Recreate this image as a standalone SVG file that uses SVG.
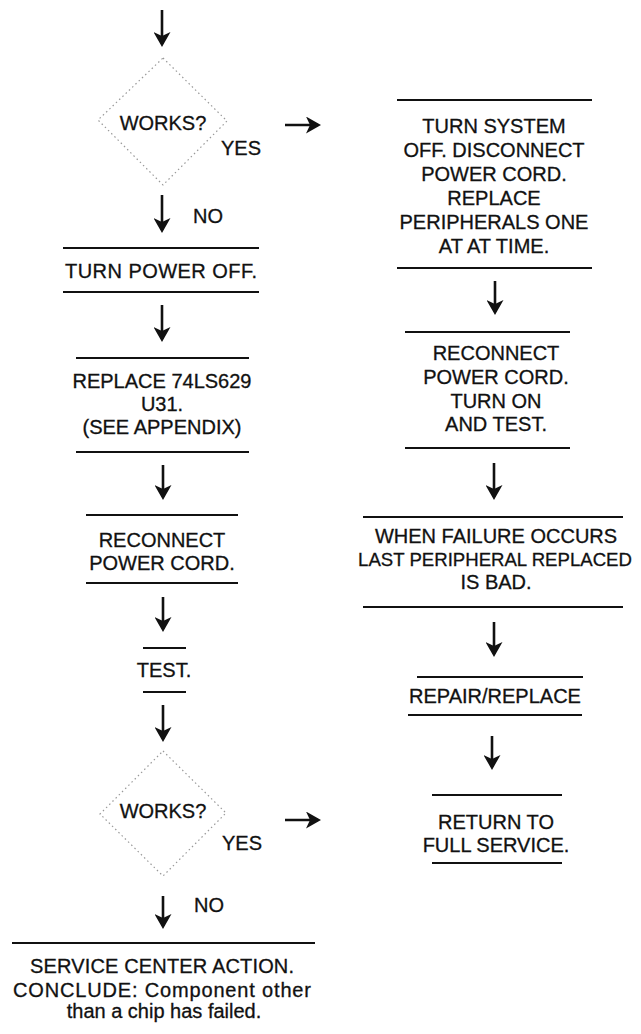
<svg xmlns="http://www.w3.org/2000/svg" width="641" height="1034" viewBox="0 0 641 1034">
<style>
text{font-family:"Liberation Sans",Arial,sans-serif;font-size:20px;fill:#111;stroke:#111;stroke-width:0.3;text-anchor:middle}
.bar{stroke:#111;stroke-width:2;fill:none}
.dia{stroke:#999;stroke-width:1.2;stroke-dasharray:1.5 3;fill:none}
.arr{stroke:#111;stroke-width:2.6;fill:none;marker-end:url(#ah)}
</style>
<defs>
<marker id="ah" viewBox="0 0 15 17" refX="12" refY="8.5" markerWidth="15" markerHeight="17" markerUnits="userSpaceOnUse" orient="auto">
<path d="M0,0 L15,8.5 L0,17 L4,8.5 Z" fill="#111"/>
</marker>
</defs>
<rect width="641" height="1034" fill="#fff"/>
<g id="connectors">
<line class="arr" x1="162" y1="10" x2="162" y2="44"/>
<line class="arr" x1="162" y1="195" x2="162" y2="230"/>
<line class="arr" x1="162" y1="305" x2="162" y2="339"/>
<line class="arr" x1="163" y1="465" x2="163" y2="497"/>
<line class="arr" x1="163" y1="597" x2="163" y2="629"/>
<line class="arr" x1="163" y1="705" x2="163" y2="739"/>
<line class="arr" x1="163" y1="896" x2="163" y2="926"/>
<line class="arr" x1="285" y1="125" x2="318" y2="125"/>
<line class="arr" x1="285" y1="820" x2="318" y2="820"/>
<line class="arr" x1="495" y1="281" x2="495" y2="312"/>
<line class="arr" x1="494" y1="463" x2="494" y2="497"/>
<line class="arr" x1="494" y1="622" x2="494" y2="654"/>
<line class="arr" x1="492" y1="736" x2="492" y2="767"/>
<text x="208" y="223">NO</text>
<text x="241" y="155">YES</text>
<text x="209" y="912">NO</text>
<text x="242" y="850">YES</text>
</g>
<g id="decision1">
<polygon class="dia" points="163,58 227,121 163,185 98,120"/>
<text x="163" y="130">WORKS?</text>
</g>
<g id="turn-power-off">
<line class="bar" x1="63" y1="248" x2="259" y2="248"/>
<text x="161" y="278" textLength="192">TURN POWER OFF.</text>
<line class="bar" x1="63" y1="292" x2="259" y2="292"/>
</g>
<g id="replace-chip">
<line class="bar" x1="76" y1="358" x2="249" y2="358"/>
<text x="162" y="388">REPLACE 74LS629</text>
<text x="162" y="411">U31.</text>
<text x="162" y="434">(SEE APPENDIX)</text>
<line class="bar" x1="76" y1="452" x2="249" y2="452"/>
</g>
<g id="reconnect-left">
<line class="bar" x1="86" y1="515" x2="238" y2="515"/>
<text x="162" y="547">RECONNECT</text>
<text x="162" y="570">POWER CORD.</text>
<line class="bar" x1="86" y1="583" x2="238" y2="583"/>
</g>
<g id="test">
<line class="bar" x1="143" y1="648" x2="186" y2="648"/>
<text x="164" y="677">TEST.</text>
<line class="bar" x1="143" y1="692" x2="186" y2="692"/>
</g>
<g id="decision2">
<polygon class="dia" points="163,751 226,813 163,876 100,814"/>
<text x="163" y="818">WORKS?</text>
</g>
<g id="service-center">
<line class="bar" x1="12" y1="943" x2="315" y2="943"/>
<text x="162" y="973" textLength="264">SERVICE CENTER ACTION.</text>
<text x="162" y="997" textLength="298">CONCLUDE: Component other</text>
<text x="164" y="1018">than a chip has failed.</text>
</g>
<g id="turn-system-off">
<line class="bar" x1="397" y1="100" x2="592" y2="100"/>
<text x="494" y="133">TURN SYSTEM</text>
<text x="494" y="157">OFF. DISCONNECT</text>
<text x="494" y="181">POWER CORD.</text>
<text x="494" y="205">REPLACE</text>
<text x="494" y="229">PERIPHERALS ONE</text>
<text x="494" y="253">AT AT TIME.</text>
<line class="bar" x1="397" y1="268" x2="592" y2="268"/>
</g>
<g id="reconnect-right">
<line class="bar" x1="405" y1="332" x2="570" y2="332"/>
<text x="496" y="360">RECONNECT</text>
<text x="496" y="384">POWER CORD.</text>
<text x="496" y="408">TURN ON</text>
<text x="496" y="431">AND TEST.</text>
<line class="bar" x1="405" y1="448" x2="570" y2="448"/>
</g>
<g id="failure-occurs">
<line class="bar" x1="363" y1="517" x2="623" y2="517"/>
<text x="496" y="543">WHEN FAILURE OCCURS</text>
<text x="495" y="566" style="font-size:18.6px">LAST PERIPHERAL REPLACED</text>
<text x="496" y="589">IS BAD.</text>
<line class="bar" x1="363" y1="607" x2="623" y2="607"/>
</g>
<g id="repair-replace">
<line class="bar" x1="417" y1="677" x2="583" y2="677"/>
<text x="495" y="703">REPAIR/REPLACE</text>
<line class="bar" x1="408" y1="715" x2="582" y2="715"/>
</g>
<g id="return-service">
<line class="bar" x1="432" y1="795" x2="562" y2="795"/>
<text x="496" y="829">RETURN TO</text>
<text x="496" y="852">FULL SERVICE.</text>
<line class="bar" x1="432" y1="863" x2="562" y2="863"/>
</g>
</svg>
